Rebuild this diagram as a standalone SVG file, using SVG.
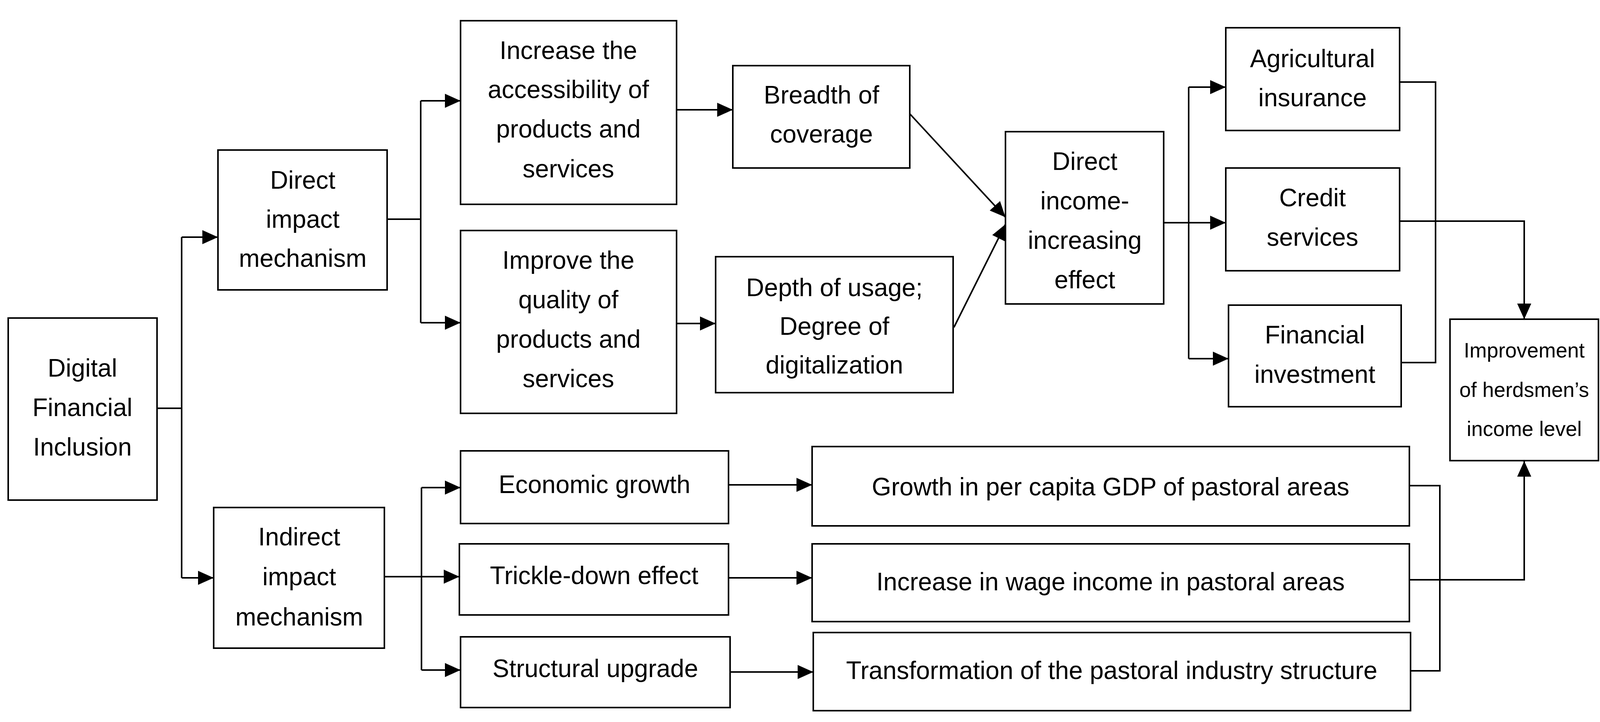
<svg xmlns="http://www.w3.org/2000/svg" width="4346" height="1848" viewBox="0 0 4346 1848">
<style>
.box{fill:#fff;stroke:#000;stroke-width:4}
text{font-family:"Liberation Sans",Arial,sans-serif;font-size:64px;fill:#000;text-anchor:middle}
.c{fill:none;stroke:#000;stroke-width:4}
.sm{font-size:53px}
</style>
<defs>
<marker id="ah" viewBox="0 0 40 36" refX="40" refY="18" markerWidth="40" markerHeight="36" markerUnits="userSpaceOnUse" orient="auto">
<path d="M0,0 L40,18 L0,36 Z" fill="#000"/>
</marker>
</defs>
<rect width="4346" height="1848" fill="#fff"/>
<g id="connectors">
<path class="c" d="M402,1045 H465 M465,607 V1479"/>
<path class="c" d="M465,607 H558" marker-end="url(#ah)"/>
<path class="c" d="M465,1479 H547" marker-end="url(#ah)"/>
<path class="c" d="M991,561 H1077 M1077,258 V826"/>
<path class="c" d="M1077,258 H1179" marker-end="url(#ah)"/>
<path class="c" d="M1077,826 H1179" marker-end="url(#ah)"/>
<path class="c" d="M1732,281 H1876" marker-end="url(#ah)"/>
<path class="c" d="M1732,828 H1832" marker-end="url(#ah)"/>
<path class="c" d="M2326,288 L2574,556" marker-end="url(#ah)"/>
<path class="c" d="M2442,838 L2574,574" marker-end="url(#ah)"/>
<path class="c" d="M3043,223 V918"/>
<path class="c" d="M2979,570 H3138" marker-end="url(#ah)"/>
<path class="c" d="M3043,223 H3138" marker-end="url(#ah)"/>
<path class="c" d="M3043,918 H3145" marker-end="url(#ah)"/>
<path class="c" d="M3583,210 H3675 V928 H3587"/>
<path class="c" d="M3583,566 H3902 V817" marker-end="url(#ah)"/>
<path class="c" d="M984,1476 H1079 M1079,1248 V1715"/>
<path class="c" d="M1079,1476 H1176" marker-end="url(#ah)"/>
<path class="c" d="M1079,1248 H1179" marker-end="url(#ah)"/>
<path class="c" d="M1079,1715 H1179" marker-end="url(#ah)"/>
<path class="c" d="M1865,1241 H2079" marker-end="url(#ah)"/>
<path class="c" d="M1865,1479 H2079" marker-end="url(#ah)"/>
<path class="c" d="M1869,1720 H2082" marker-end="url(#ah)"/>
<path class="c" d="M3608,1243 H3686 V1717 H3611"/>
<path class="c" d="M3608,1484 H3902 V1180" marker-end="url(#ah)"/>
</g>
<g id="dfi"><rect class="box" x="21" y="814" width="381" height="466"/>
<text x="211" y="964">Digital</text><text x="211" y="1065">Financial</text><text x="211" y="1166">Inclusion</text></g>
<g id="direct"><rect class="box" x="558" y="384" width="433" height="358"/>
<text x="775" y="483">Direct</text><text x="775" y="583">impact</text><text x="775" y="683">mechanism</text></g>
<g id="increase"><rect class="box" x="1179" y="53" width="553" height="470"/>
<text x="1455" y="151">Increase the</text><text x="1455" y="251">accessibility of</text><text x="1455" y="352">products and</text><text x="1455" y="454">services</text></g>
<g id="improve"><rect class="box" x="1179" y="590" width="553" height="468"/>
<text x="1455" y="688">Improve the</text><text x="1455" y="789">quality of</text><text x="1455" y="890">products and</text><text x="1455" y="991">services</text></g>
<g id="breadth"><rect class="box" x="1876" y="168" width="453" height="262"/>
<text x="2103" y="265">Breadth of</text><text x="2103" y="365">coverage</text></g>
<g id="depth"><rect class="box" x="1832" y="657" width="608" height="348"/>
<text x="2136" y="758">Depth of usage;</text><text x="2136" y="857">Degree of</text><text x="2136" y="956">digitalization</text></g>
<g id="directincome"><rect class="box" x="2574" y="337" width="405" height="441"/>
<text x="2777" y="435">Direct</text><text x="2777" y="536">income-</text><text x="2777" y="637">increasing</text><text x="2777" y="738">effect</text></g>
<g id="agri"><rect class="box" x="3138" y="71" width="445" height="263"/>
<text x="3360" y="172">Agricultural</text><text x="3360" y="272">insurance</text></g>
<g id="credit"><rect class="box" x="3138" y="430" width="445" height="263"/>
<text x="3360" y="528">Credit</text><text x="3360" y="629">services</text></g>
<g id="fininv"><rect class="box" x="3145" y="781" width="442" height="260"/>
<text x="3366" y="879">Financial</text><text x="3366" y="980">investment</text></g>
<g id="improvement"><rect class="box" x="3712" y="817" width="380" height="362"/>
<text class="sm" x="3902" y="915">Improvement</text><text class="sm" x="3902" y="1016">of herdsmen’s</text><text class="sm" x="3902" y="1116">income level</text></g>
<g id="indirect"><rect class="box" x="547" y="1299" width="437" height="360"/>
<text x="766" y="1396">Indirect</text><text x="766" y="1498">impact</text><text x="766" y="1601">mechanism</text></g>
<g id="econ"><rect class="box" x="1179" y="1154" width="686" height="186"/>
<text x="1522" y="1262">Economic growth</text></g>
<g id="trickle"><rect class="box" x="1176" y="1392" width="689" height="182"/>
<text x="1521" y="1495">Trickle-down effect</text></g>
<g id="structural"><rect class="box" x="1179" y="1630" width="690" height="181"/>
<text x="1524" y="1733">Structural upgrade</text></g>
<g id="gdp"><rect class="box" x="2079" y="1143" width="1529" height="203"/>
<text x="2843" y="1268">Growth in per capita GDP of pastoral areas</text></g>
<g id="wage"><rect class="box" x="2079" y="1392" width="1529" height="199"/>
<text x="2843" y="1511">Increase in wage income in pastoral areas</text></g>
<g id="transform"><rect class="box" x="2082" y="1619" width="1529" height="200"/>
<text x="2846" y="1738">Transformation of the pastoral industry structure</text></g>
</svg>
